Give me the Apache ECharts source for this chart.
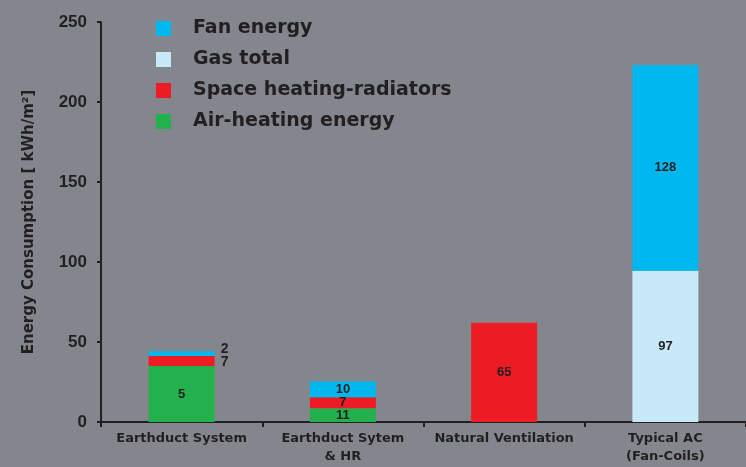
<!DOCTYPE html>
<html>

<head>
  <meta charset="utf-8" />
  <script src="https://cdn.jsdelivr.net/npm/echarts@6/dist/echarts.min.js"></script>
  <style>
    html, body { margin: 0; padding: 0; background: #84868e; }
    #chart { width: 746px; height: 467px; }
  </style>
</head>

<body>
  <div id="chart"></div>
  <script type="text/javascript">
    const categories = ['Earthduct System', 'Earthduct Sytem\n& HR', 'Natural Ventilation', 'Typical AC\n(Fan-Coils)'];

    // bar heights
    const airHeating = [35, 8.6, '-', '-'];
    const spaceHeating = [6.2, 6.9, 62, '-'];
    const gasTotal = ['-', '-', '-', 94.5];
    const fanEnergy = [3, 9.8, '-', 128.7];

    // printed labels (they don't always match the bar heights)
    const airLabels = ['5', '11', '', ''];
    const spaceLabels = ['7', '7', '65', ''];
    const gasLabels = ['', '', '', '97'];
    const fanLabels = ['2', '10', '', '128'];

    const yTicks = [0, 50, 100, 150, 200, 250];

    const ink = '#231f20';
    const font = '"Liberation Sans", Arial, sans-serif';
    const wideFont = '"DejaVu Sans", sans-serif';

    const chart = echarts.init(document.getElementById('chart'));

    function makeData(values, labels, outsideOffset) {
      return values.map((v, i) => {
        const item = { value: v, label: { formatter: labels[i] } };
        // first group prints its small values beside the bar
        if (i === 0 && outsideOffset !== undefined) {
          item.label.position = 'right';
          item.label.distance = 6;
          item.label.offset = [0, outsideOffset];
          item.label.fontSize = 14;
        }
        return item;
      });
    }

    function barSeries(name, color, values, labels, outsideOffset) {
      return {
        name: name,
        type: 'bar',
        stack: 'total',
        barWidth: 66,
        itemStyle: { color: color },
        label: {
          show: true,
          position: 'inside',
          color: ink,
          fontFamily: font,
          fontWeight: 'bold',
          fontSize: 13
        },
        data: makeData(values, labels, outsideOffset)
      };
    }

    var option = {
      animation: false,
      backgroundColor: '#84868e',
      textStyle: { fontFamily: font },
      grid: {
        left: 101,
        right: -6,
        top: 22,
        bottom: 45
      },
      legend: {
        orient: 'vertical',
        left: 156,
        top: 19,
        padding: 0,
        itemWidth: 15,
        itemHeight: 15,
        itemGap: 12,
        icon: 'rect',
        data: ['Fan energy', 'Gas total', 'Space heating-radiators', 'Air-heating energy'],
        textStyle: {
          color: ink,
          fontFamily: wideFont,
          fontWeight: 'bold',
          fontSize: 19,
          padding: [0, 0, 0, 17]
        }
      },
      xAxis: {
        type: 'category',
        data: categories,
        axisLine: { lineStyle: { color: ink, width: 2 } },
        axisTick: { show: true, length: 5, lineStyle: { color: ink, width: 2 } },
        axisLabel: {
          interval: 0,
          color: ink,
          fontFamily: wideFont,
          fontWeight: 'bold',
          fontSize: 13,
          lineHeight: 18,
          margin: 8
        }
      },
      yAxis: {
        type: 'value',
        min: yTicks[0],
        max: yTicks[yTicks.length - 1],
        interval: 50,
        name: 'Energy Consumption [ kWh/m\u00b2]',
        nameLocation: 'middle',
        nameGap: 64,
        nameTextStyle: {
          color: ink,
          fontFamily: wideFont,
          fontWeight: 'bold',
          fontSize: 15
        },
        splitLine: { show: false },
        axisLine: { show: true, lineStyle: { color: ink, width: 2 } },
        axisTick: { show: true, length: 4, lineStyle: { color: ink, width: 2 } },
        axisLabel: {
          color: ink,
          fontFamily: font,
          fontWeight: 'bold',
          fontSize: 17,
          margin: 14,
          padding: [0, 0, 9, 0]
        }
      },
      series: [
        barSeries('Air-heating energy', '#22b14c', airHeating, airLabels),
        barSeries('Space heating-radiators', '#ed1c24', spaceHeating, spaceLabels, 1),
        barSeries('Gas total', '#c8e9f8', gasTotal, gasLabels),
        barSeries('Fan energy', '#00b7ef', fanEnergy, fanLabels, -5)
      ]
    };

    chart.setOption(option);

    window.onresize = () => {
      chart?.resize();
    };
  </script>
</body>

</html>
